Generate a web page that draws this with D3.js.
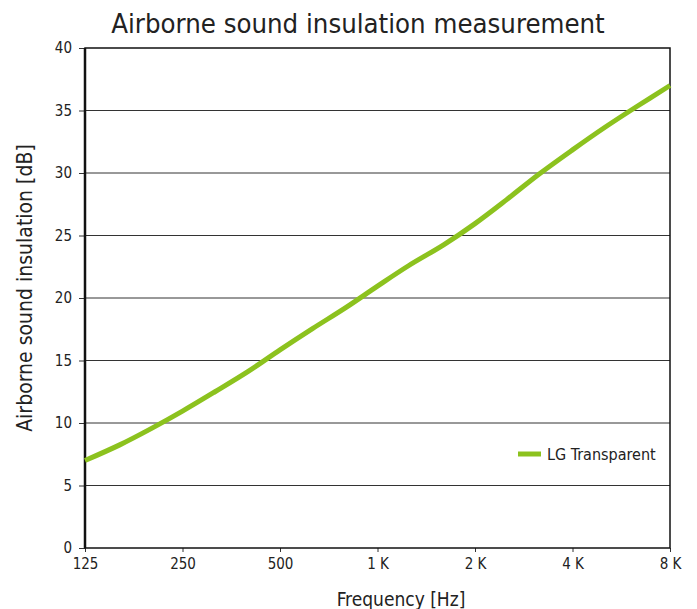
<!DOCTYPE html>
<html>
<head>
<meta charset="utf-8">
<script src="https://cdn.jsdelivr.net/npm/d3@7"></script>
<style>
  body { margin: 0; background: #fff; }
  text { font-family: "DejaVu Sans Condensed", "Liberation Sans Narrow", sans-serif; fill: #222; }
</style>
</head>
<body>
<script>
// 1/3オクターブ周波数と遮音値
const freqs = [125, 160, 200, 250, 315, 400, 500, 630, 800, 1000, 1250, 1600, 2000, 2500, 3150, 4000, 5000, 6300, 8000];
const insulation = [7.0, 8.25, 9.55, 10.95, 12.5, 14.15, 15.85, 17.55, 19.25, 20.95, 22.6, 24.25, 25.95, 27.85, 29.9, 31.85, 33.6, 35.3, 37.0];
const xTicks = [125, 250, 500, 1000, 2000, 4000, 8000];
const xTickLabels = ["125", "250", "500", "1 K", "2 K", "4 K", "8 K"];
const yTicks = [0, 5, 10, 15, 20, 25, 30, 35, 40];
const seriesName = "LG Transparent";

const width = 697, height = 609;
const margin = { top: 48, right: 27, bottom: 61, left: 85 };
const green = "#8cc21e";

const svg = d3.select("body").append("svg")
  .attr("width", width).attr("height", height);

const x = d3.scaleLog().base(2).domain([125, 8000])
  .range([margin.left, width - margin.right]);
const y = d3.scaleLinear().domain([0, 40])
  .range([height - margin.bottom, margin.top]);

// グリッド線
svg.append("g").selectAll("line").data(yTicks.slice(1, -1)).join("line")
  .attr("x1", margin.left).attr("x2", width - margin.right)
  .attr("y1", d => y(d)).attr("y2", d => y(d))
  .attr("stroke", "#333").attr("stroke-width", 1);

// Y軸
const yAxis = svg.append("g")
  .attr("transform", `translate(${margin.left},0)`)
  .call(d3.axisLeft(y).tickValues(yTicks).tickSize(6).tickPadding(7));
yAxis.select(".domain").remove();
yAxis.selectAll("line").attr("stroke", "#333");
yAxis.selectAll("text").style("font-size", "15px").attr("fill", "#222");

// X軸
const xAxis = svg.append("g")
  .attr("transform", `translate(0,${height - margin.bottom})`)
  .call(d3.axisBottom(x).tickValues(xTicks)
    .tickFormat((d, i) => xTickLabels[i]).tickSize(4).tickPadding(6));
xAxis.select(".domain").remove();
xAxis.selectAll("line").attr("stroke", "#333");
xAxis.selectAll("text").style("font-size", "15px").attr("fill", "#222");

// 枠
svg.append("rect")
  .attr("x", margin.left).attr("y", margin.top)
  .attr("width", width - margin.left - margin.right)
  .attr("height", height - margin.top - margin.bottom)
  .attr("fill", "none").attr("stroke", "#111").attr("stroke-width", 1.5);
svg.append("line")
  .attr("x1", margin.left).attr("x2", margin.left)
  .attr("y1", margin.top).attr("y2", height - margin.bottom)
  .attr("stroke", "#111").attr("stroke-width", 2.5);

// データ線
const line = d3.line()
  .x((d, i) => x(freqs[i]))
  .y(d => y(d))
  .curve(d3.curveCatmullRom);
svg.append("path")
  .datum(insulation)
  .attr("d", line)
  .attr("fill", "none")
  .attr("stroke", green)
  .attr("stroke-width", 5)
  .attr("stroke-linecap", "butt");

// 凡例
svg.append("line")
  .attr("x1", 518).attr("x2", 541).attr("y1", 454).attr("y2", 454)
  .attr("stroke", green).attr("stroke-width", 5);
svg.append("text")
  .attr("x", 547).attr("y", 460)
  .style("font-size", "16px")
  .text(seriesName);

// タイトル
svg.append("text")
  .attr("x", 358).attr("y", 33)
  .attr("text-anchor", "middle")
  .style("font-size", "27.3px")
  .text("Airborne sound insulation measurement");

// 軸ラベル
svg.append("text")
  .attr("x", 401).attr("y", 606)
  .attr("text-anchor", "middle")
  .style("font-size", "19px")
  .text("Frequency [Hz]");
svg.append("text")
  .attr("transform", "translate(32,288) rotate(-90)")
  .attr("text-anchor", "middle")
  .style("font-size", "21px")
  .text("Airborne sound insulation [dB]");
</script>
</body>
</html>
